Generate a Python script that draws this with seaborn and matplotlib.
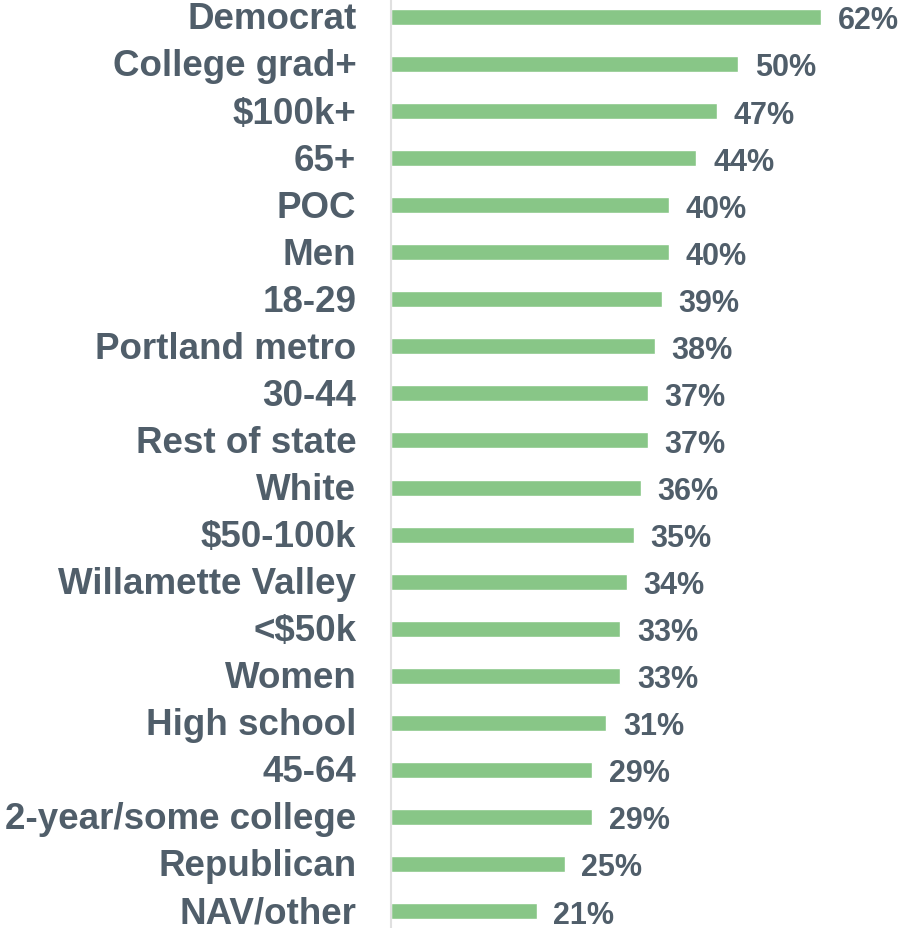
import pandas as pd
import matplotlib
matplotlib.use('Agg')
import matplotlib.pyplot as plt
import matplotlib.transforms as mtransforms
import seaborn as sns

# 各群体数值
groups = ['Democrat', 'College grad+', '$100k+', '65+', 'POC', 'Men', '18-29',
          'Portland metro', '30-44', 'Rest of state', 'White', '$50-100k',
          'Willamette Valley', '<$50k', 'Women', 'High school', '45-64',
          '2-year/some college', 'Republican', 'NAV/other']
values = [62, 50, 47, 44, 40, 40, 39, 38, 37, 37, 36, 35, 34, 33, 33, 31, 29, 29, 25, 21]

df = pd.DataFrame({'group': groups, 'value': values})

sns.set_style('white')
plt.rcParams['font.family'] = ['Liberation Sans', 'DejaVu Sans']

txt = '#505E6A'
f = plt.figure(figsize=(9.02, 9.29), dpi=100)
ax = f.add_axes([391 / 902, 0, 511 / 902, 1])
sns.barplot(data=df, x='value', y='group', orient='h', color='#88C687',
            saturation=1, width=0.34, ax=ax)

for i, v in enumerate(values):
    ax.text(v + 2.4, i, f'{v}%', va='center_baseline', ha='left', fontsize=22,
            fontweight='bold', color=txt)

ax.set_xlim(0, 73.6)
ax.set_ylim(19.36, -0.38)
ax.set_xlabel('')
ax.set_ylabel('')
ax.set_xticks([])
ax.set_yticks(range(len(groups)))
ax.set_yticklabels(groups, fontsize=26.5, fontweight='bold', color=txt)
ax.tick_params(axis='y', length=0, pad=25)
# 标签稍微上移
shift = mtransforms.ScaledTranslation(0, 2 / 100, f.dpi_scale_trans)
for lab in ax.get_yticklabels():
    lab.set_transform(lab.get_transform() + shift)
for s in ['top', 'right', 'bottom']:
    ax.spines[s].set_visible(False)
ax.spines['left'].set_color('#E0E0E0')
ax.spines['left'].set_linewidth(1.5)

plt.savefig('out.png', dpi=100)
